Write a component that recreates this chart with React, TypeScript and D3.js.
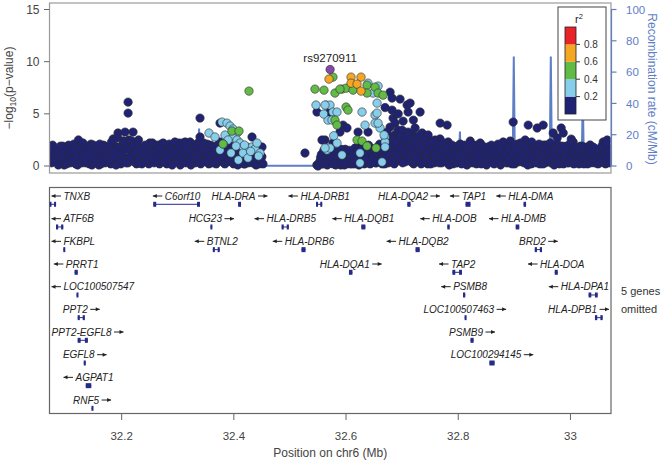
import React from "react";
import * as d3 from "d3";

// ---------------- DATA ----------------
const xTicks = [32.2, 32.4, 32.6, 32.8, 33];
const yTicks = [0, 5, 10, 15];
const recombTicks = [0, 20, 40, 60, 80, 100];
const legendBreaks = [0.2, 0.4, 0.6, 0.8];
const legendColors = ["#202373", "#87CEEB", "#62BB47", "#F5A623", "#E8242A"];

const leadSnpName = "rs9270911";
const leadSnp: [number, number][] = [[32.5716, 9.25]];

const snpsR2_08: [number, number][] = [];

const snpsR2_06: [number, number][] = [
  [32.5696, 8.33], [32.6089, 8.52], [32.6267, 8.52], [32.6089, 7.94], [32.6196, 7.85], [32.6267, 7.18],
];

const snpsR2_04: [number, number][] = [
  [32.427, 7.18], [32.3967, 3.35], [32.4092, 3.35], [32.3807, 2.11],
  [32.5767, 8.52], [32.5446, 7.37], [32.5607, 7.27], [32.5803, 6.99], [32.5928, 7.37], [32.6, 7.46],
  [32.6125, 7.27], [32.6374, 7.75], [32.6374, 6.99], [32.6517, 7.56], [32.6571, 6.99], [32.666, 6.79],
  [32.6, 5.65], [32.6035, 5.36], [32.5803, 4.4], [32.5839, 3.92], [32.6196, 2.49], [32.6285, 2.39],
  [32.6374, 1.91], [32.6535, 1.72], [32.5892, 7.37],
];

const snpsR2_02: [number, number][] = [
  [32.3557, 3.16], [32.3664, 2.78], [32.3789, 4.21], [32.3878, 4.11], [32.3932, 3.83], [32.3985, 3.54],
  [32.4056, 3.16], [32.3985, 2.68], [32.4056, 2.49], [32.411, 2.2], [32.4163, 1.82], [32.4235, 1.82],
  [32.4324, 1.82], [32.4377, 1.63], [32.4467, 1.24], [32.4413, 2.2], [32.4163, 1.24], [32.3843, 2.97],
  [32.3896, 2.49], [32.4038, 1.91], [32.4252, 0.77], [32.3753, 1.53], [32.395, 1.24], [32.419, 2.01],
  [32.43, 1.4], [32.444, 0.96], [32.408, 0.57], [32.381, 2.11],
  [32.5464, 5.84], [32.5643, 5.84], [32.5714, 5.84], [32.5767, 5.17], [32.5839, 5.17], [32.5678, 4.4],
  [32.575, 4.4], [32.6285, 5.17], [32.6392, 7.94], [32.6571, 7.66], [32.6481, 6.99], [32.6553, 6.03],
  [32.6517, 4.88], [32.6517, 4.11], [32.6606, 3.64], [32.6696, 2.78], [32.6696, 2.3], [32.6696, 1.82],
  [32.566, 1.53], [32.5714, 1.72], [32.5839, 2.2], [32.6249, 1.24], [32.6642, 0.38], [32.5625, 5.84],
  [32.5625, 1.72], [32.6339, 3.92], [32.6553, 5.07], [32.6571, 4.11], [32.6678, 2.97], [32.5928, 1.05],
  [32.6249, 0.29], [32.56, 4.98], [32.578, 2.9],
];

// r2 < 0.2: left part of the region
const snpsLowLeft: [number, number][] = [
  [32.2115, 6.12], [32.2115, 5.07], [32.3397, 4.59], [32.3753, 4.11], [32.4324, 2.78],
  [32.1935, 3.16], [32.2061, 3.25], [32.2203, 3.25], [32.185, 2.6], [32.23, 2.5],
  [32.3133, 2.3], [32.3361, 2.2], [32.3397, 2.78], [32.4502, 1.82],
  [32.073, 1.8], [32.075, 0.3], [32.078, 1.1], [32.081, 0.6], [32.084, 1.5], [32.087, 0.1], [32.089, 0.9], [32.091, 1.9],
  [32.094, 0.4], [32.096, 1.3], [32.099, 0.8], [32.102, 0.2], [32.104, 1.7], [32.107, 1.0], [32.11, 0.5],
  [32.113, 1.4], [32.115, 2.1], [32.118, 0.2], [32.12, 0.9], [32.123, 2.5], [32.125, 1.6], [32.128, 0.6], [32.131, 2.2],
  [32.133, 1.2], [32.136, 0.3], [32.138, 1.9], [32.141, 0.8], [32.144, 1.5], [32.147, 0.1], [32.15, 2.0],
  [32.153, 1.0], [32.155, 0.5], [32.158, 1.7], [32.161, 2.1], [32.163, 0.2], [32.166, 1.3], [32.169, 0.7], [32.171, 1.9],
  [32.174, 1.1], [32.176, 0.4], [32.179, 1.6], [32.182, 2.3], [32.185, 0.8], [32.187, 1.4], [32.19, 0.1],
  [32.193, 2.7], [32.195, 1.8], [32.197, 0.6], [32.2, 1.2], [32.203, 2.4], [32.205, 2.2], [32.208, 0.3], [32.21, 1.6],
  [32.213, 2.5], [32.215, 0.9], [32.218, 2.4], [32.22, 1.9], [32.223, 0.4], [32.225, 1.3], [32.228, 2.2], [32.231, 0.7],
  [32.234, 1.7], [32.236, 0.2], [32.239, 1.1], [32.242, 2.0], [32.245, 0.6], [32.247, 1.5], [32.25, 2.2],
  [32.253, 0.9], [32.255, 2.2], [32.258, 0.3], [32.261, 1.4], [32.263, 2.0], [32.266, 0.7], [32.269, 1.8], [32.271, 1.1],
  [32.274, 2.2], [32.276, 0.4], [32.279, 1.3], [32.282, 0.8], [32.285, 2.1], [32.287, 1.6], [32.29, 0.1],
  [32.293, 1.0], [32.295, 2.3], [32.298, 1.5], [32.301, 0.5], [32.303, 1.9], [32.306, 0.9], [32.309, 2.2], [32.311, 1.3],
  [32.314, 0.3], [32.316, 1.8], [32.319, 1.1], [32.322, 2.3], [32.325, 0.6], [32.327, 1.5], [32.33, 2.0],
  [32.333, 0.8], [32.335, 1.3], [32.338, 2.0], [32.341, 0.2], [32.343, 1.7], [32.346, 2.2], [32.349, 1.0], [32.351, 0.5],
  [32.354, 1.5], [32.356, 0.9], [32.359, 2.0], [32.362, 0.3], [32.364, 1.2], [32.367, 1.8], [32.37, 0.6],
  [32.373, 1.4], [32.375, 2.3], [32.378, 0.8], [32.381, 1.1], [32.384, 0.2], [32.387, 1.7], [32.39, 0.5],
  [32.393, 1.2], [32.396, 0.4], [32.398, 2.1], [32.401, 0.9], [32.404, 1.5], [32.407, 0.1], [32.41, 1.0],
  [32.413, 0.6], [32.415, 1.3], [32.418, 0.2], [32.421, 1.1], [32.424, 0.5], [32.427, 1.6], [32.43, 0.9],
  [32.433, 0.3], [32.435, 1.2], [32.438, 0.7], [32.441, 0.2], [32.444, 1.1], [32.447, 0.5], [32.45, 0.9], [32.452, 0.2],
];

// r2 < 0.2: more low-significance SNPs in the left part
const snpsLowLeft2: [number, number][] = [
  [32.0725, 0.9], [32.077, 2.0], [32.0795, 0.5], [32.0825, 1.2], [32.0855, 0.3], [32.088, 1.6], [32.0925, 0.7],
  [32.095, 1.9], [32.0975, 0.1], [32.1005, 1.3], [32.103, 0.6], [32.1055, 2.0], [32.1085, 0.3], [32.1115, 1.0],
  [32.1165, 0.5], [32.119, 1.8], [32.1215, 0.1], [32.1265, 1.1], [32.1295, 0.3], [32.1325, 1.7], [32.1345, 0.6],
  [32.1395, 1.4], [32.1425, 0.2], [32.1455, 2.1], [32.1485, 0.9], [32.1515, 0.3], [32.1565, 1.4], [32.1595, 0.1],
  [32.1645, 0.9], [32.1675, 2.0], [32.1705, 0.3], [32.1725, 1.5], [32.1775, 0.8], [32.1805, 0.2], [32.1835, 1.3],
  [32.1885, 1.9], [32.1915, 0.7], [32.1965, 1.3], [32.1985, 0.2], [32.2015, 2.0], [32.2065, 0.8], [32.2095, 1.9],
  [32.2115, 0.3], [32.2165, 1.6], [32.2215, 1.1], [32.2245, 2.0], [32.2265, 0.2], [32.2295, 1.5], [32.2325, 0.3],
  [32.2375, 1.3], [32.2405, 0.6], [32.2435, 1.6], [32.2485, 0.2], [32.2515, 1.2], [32.2565, 1.6], [32.2595, 0.6],
  [32.2645, 1.2], [32.2675, 0.2], [32.2705, 2.1], [32.2725, 0.5], [32.2775, 1.8], [32.2805, 0.2], [32.2835, 1.2],
  [32.2885, 0.6], [32.2915, 1.8], [32.2965, 0.4], [32.2995, 1.1], [32.3025, 2.2], [32.3045, 0.1], [32.3075, 1.5],
  [32.3125, 0.7], [32.3155, 2.0], [32.3175, 0.4], [32.3205, 1.5], [32.3235, 0.1], [32.3285, 1.0], [32.3315, 0.3],
  [32.3345, 1.8], [32.3395, 0.9], [32.3445, 0.4], [32.3475, 1.3], [32.3525, 2.1], [32.3555, 0.2], [32.3605, 1.5],
  [32.3635, 0.7], [32.3685, 0.2], [32.3715, 2.0], [32.3765, 0.5], [32.3795, 1.6], [32.3825, 0.3], [32.3855, 1.0],
  [32.3885, 0.4], [32.3915, 1.9], [32.3945, 0.8], [32.3995, 0.2], [32.4025, 1.3], [32.4055, 0.6], [32.4085, 1.5],
  [32.4115, 0.3], [32.4165, 0.8], [32.4195, 0.2], [32.4225, 1.2], [32.4255, 0.3], [32.4285, 1.0], [32.4315, 0.4],
  [32.4365, 0.7], [32.4395, 0.1], [32.4425, 0.6], [32.4455, 0.2], [32.4485, 0.7],
];

// r2 < 0.2: middle (peak) part
const snpsLowMid: [number, number][] = [
  [32.5268, 1.24], [32.548, 0.1], [32.55, 0.0],
  [32.6785, 7.08], [32.682, 6.51], [32.6963, 6.41], [32.7088, 5.84], [32.7142, 6.03], [32.732, 5.17],
  [32.7106, 5.17], [32.682, 5.36], [32.6838, 4.59], [32.6785, 3.73], [32.6731, 3.25], [32.682, 2.78],
  [32.6874, 4.11], [32.6927, 3.44], [32.6999, 3.44], [32.7106, 3.25], [32.7231, 3.64], [32.7356, 3.16],
  [32.6874, 2.49], [32.7142, 2.01], [32.7052, 2.68], [32.7285, 2.49], [32.7463, 2.97], [32.7588, 2.49],
  [32.7677, 4.11], [32.7802, 3.92], [32.782, 2.3], [32.5714, 5.17], [32.5946, 3.92], [32.6017, 3.64],
  [32.6214, 3.25], [32.6392, 3.25], [32.616, 1.72], [32.6035, 1.05], [32.5625, 2.49], [32.5767, 2.2],
  [32.5482, 5.17], [32.5571, 2.49], [32.5607, 1.34], [32.5892, 3.25], [32.6696, 5.6], [32.7017, 4.3],
  [32.72, 4.4], [32.693, 5.0],
];

// r2 < 0.2: right part
const snpsLowRight: [number, number][] = [
  [32.8979, 4.21], [32.9247, 3.92], [32.9407, 3.64], [32.9514, 3.92], [32.9692, 3.16], [32.9835, 3.64],
  [32.9871, 3.16], [33.0049, 2.3], [33.0014, 2.58], [33.0584, 2.3], [32.9764, 2.68], [32.9193, 2.49],
  [32.8801, 2.3], [32.8694, 1.91], [32.8533, 1.82], [32.8034, 2.11], [32.8214, 2.39], [32.8392, 2.2],
  [32.8926, 2.39], [32.9104, 2.11], [32.9549, 2.01], [33.0351, 2.01], [33.0655, 2.49],
  [32.553, 0.4], [32.556, 1.1], [32.559, 0.2], [32.562, 0.8], [32.565, 0.3], [32.568, 1.3], [32.571, 0.6],
  [32.574, 0.9], [32.577, 0.2], [32.58, 1.4], [32.583, 0.5], [32.586, 1.0], [32.589, 0.3], [32.591, 1.6],
  [32.594, 0.7], [32.597, 0.1], [32.6, 1.2], [32.603, 0.4], [32.606, 1.5], [32.609, 0.8], [32.611, 0.2],
  [32.614, 1.0], [32.617, 0.5], [32.62, 1.4], [32.623, 0.1], [32.626, 0.9], [32.629, 1.7], [32.631, 0.4],
  [32.634, 1.1], [32.637, 0.6], [32.64, 2.0], [32.643, 0.2], [32.646, 1.3], [32.649, 0.8], [32.651, 1.6],
  [32.654, 0.3], [32.657, 1.2], [32.66, 2.1], [32.663, 0.7], [32.666, 1.5], [32.669, 0.2], [32.671, 2.4],
  [32.674, 1.0], [32.676, 1.9], [32.679, 0.5], [32.681, 2.6], [32.684, 1.4], [32.686, 0.2], [32.689, 2.2], [32.691, 1.1],
  [32.694, 0.6], [32.696, 2.9], [32.699, 1.7], [32.701, 0.3], [32.704, 2.4], [32.706, 1.2], [32.709, 2.8], [32.711, 0.8],
  [32.714, 1.9], [32.716, 0.4], [32.719, 2.6], [32.721, 1.3], [32.724, 2.2], [32.726, 0.7], [32.729, 1.6], [32.731, 2.9],
  [32.734, 0.2], [32.736, 1.8], [32.739, 2.5], [32.741, 1.0], [32.744, 0.5], [32.746, 2.1], [32.749, 1.4], [32.751, 0.2],
  [32.754, 1.7], [32.756, 2.4], [32.759, 0.8], [32.761, 1.3], [32.764, 2.0], [32.766, 0.3], [32.769, 1.5], [32.771, 0.9],
  [32.774, 2.2], [32.776, 0.5], [32.779, 1.2], [32.781, 1.8], [32.784, 0.1], [32.786, 1.0], [32.789, 2.0], [32.791, 0.6],
  [32.794, 1.4], [32.796, 0.3], [32.799, 1.9], [32.801, 0.9], [32.804, 1.5], [32.806, 0.2], [32.809, 1.1], [32.811, 2.0],
  [32.814, 0.7], [32.816, 1.6], [32.819, 0.3], [32.821, 2.2], [32.824, 1.0], [32.826, 1.7], [32.829, 0.5], [32.831, 1.3],
  [32.834, 2.0], [32.836, 0.8], [32.839, 1.5], [32.841, 0.2], [32.844, 1.9], [32.846, 1.1], [32.849, 0.6], [32.851, 1.7],
  [32.854, 0.4], [32.856, 1.3], [32.859, 2.0], [32.861, 0.9], [32.864, 0.2], [32.866, 1.6], [32.869, 1.0], [32.871, 2.1],
  [32.874, 0.5], [32.876, 1.4], [32.879, 0.8], [32.881, 2.2], [32.884, 1.1], [32.886, 0.3], [32.889, 1.8], [32.891, 0.7],
  [32.894, 1.5], [32.896, 0.2], [32.899, 1.2], [32.901, 2.0], [32.904, 0.6], [32.906, 1.6], [32.909, 0.9], [32.911, 2.2],
  [32.914, 0.4], [32.916, 1.3], [32.919, 1.9], [32.921, 0.8], [32.924, 0.1], [32.926, 1.5], [32.929, 1.0], [32.931, 2.3],
  [32.934, 0.6], [32.936, 1.7], [32.939, 0.3], [32.941, 1.2], [32.944, 2.1], [32.946, 0.9], [32.949, 1.5], [32.951, 0.2],
  [32.954, 1.1], [32.956, 1.8], [32.959, 0.5], [32.961, 1.4], [32.964, 2.2], [32.966, 0.7], [32.969, 1.2], [32.971, 0.1],
  [32.974, 1.6], [32.976, 0.9], [32.979, 2.0], [32.981, 0.4], [32.984, 1.3], [32.986, 1.9], [32.989, 0.6], [32.991, 1.0],
  [32.994, 0.3], [32.996, 1.5], [32.999, 2.1], [33.001, 0.8], [33.004, 1.2], [33.006, 0.2], [33.009, 1.7], [33.011, 0.9],
  [33.014, 0.5], [33.016, 1.4], [33.019, 0.9], [33.021, 1.9], [33.024, 0.2], [33.026, 1.1], [33.029, 0.6], [33.031, 1.6],
  [33.034, 0.8], [33.036, 0.3], [33.039, 1.3], [33.041, 1.8], [33.044, 0.6], [33.046, 1.0], [33.049, 0.2], [33.051, 1.5],
  [33.054, 0.9], [33.056, 1.9], [33.059, 0.4], [33.061, 1.2], [33.064, 2.1], [33.066, 0.7], [33.069, 1.4], [33.07, 0.3],
];

// r2 < 0.2: more low-significance SNPs in the right part
const snpsLowRight2: [number, number][] = [
  [32.5545, 0.8], [32.5575, 0.2], [32.5605, 1.5], [32.5635, 0.5], [32.5665, 0.1], [32.5695, 1.0], [32.5725, 0.3],
  [32.5755, 1.3], [32.5785, 0.6], [32.5815, 0.1], [32.5845, 1.1], [32.5875, 0.6], [32.5905, 0.1], [32.5925, 1.1],
  [32.5955, 0.4], [32.5985, 1.6], [32.6015, 0.2], [32.6045, 0.9], [32.6075, 0.2], [32.6105, 1.3], [32.6125, 0.6],
  [32.6155, 0.2], [32.6185, 1.0], [32.6215, 0.4], [32.6245, 1.8], [32.6275, 0.4], [32.6305, 1.1], [32.6325, 0.2],
  [32.6355, 1.6], [32.6385, 0.3], [32.6415, 1.0], [32.6445, 1.7], [32.6475, 0.4], [32.6505, 1.1], [32.6525, 0.3],
  [32.6555, 1.8], [32.6585, 0.6], [32.6615, 1.4], [32.6645, 0.2], [32.6675, 1.0], [32.6705, 0.6], [32.6725, 1.7],
  [32.6755, 0.3], [32.6775, 2.4], [32.6805, 1.1], [32.6825, 0.4], [32.6855, 1.8], [32.6875, 3.0], [32.6905, 0.5],
  [32.6925, 1.5], [32.6955, 2.2], [32.6975, 0.9], [32.7005, 1.4], [32.7025, 3.2], [32.7055, 0.4], [32.7075, 2.0],
  [32.7105, 1.2], [32.7125, 2.4], [32.7155, 0.9], [32.7175, 3.0], [32.7205, 0.2], [32.7225, 1.8], [32.7255, 2.8],
  [32.7275, 1.0], [32.7305, 0.4], [32.7325, 2.2], [32.7355, 1.2], [32.7375, 0.6], [32.7405, 2.8], [32.7425, 1.6],
  [32.7455, 0.2], [32.7475, 1.2], [32.7505, 2.4], [32.7525, 0.8], [32.7555, 1.1], [32.7575, 0.3], [32.7605, 2.1],
  [32.7625, 0.6], [32.7655, 1.6], [32.7675, 2.6], [32.7705, 0.3], [32.7725, 1.4], [32.7755, 1.9], [32.7775, 0.8],
  [32.7805, 0.3], [32.7825, 1.5], [32.7855, 0.6], [32.7875, 1.3], [32.7905, 0.2], [32.7925, 1.8], [32.7955, 0.9],
  [32.7975, 0.3], [32.8005, 1.4], [32.8025, 0.5], [32.8055, 2.0], [32.8075, 0.7], [32.8105, 0.4], [32.8125, 1.2],
  [32.8155, 0.1], [32.8175, 1.1], [32.8205, 0.6], [32.8225, 1.5], [32.8255, 0.3], [32.8275, 2.0], [32.8305, 0.9],
  [32.8325, 0.2], [32.8355, 1.2], [32.8375, 0.5], [32.8405, 1.9], [32.8425, 1.0], [32.8455, 0.4], [32.8475, 1.4],
  [32.8505, 0.1], [32.8525, 1.0], [32.8555, 1.8], [32.8575, 0.6], [32.8605, 1.5], [32.8625, 0.3], [32.8655, 0.9],
  [32.8675, 1.9], [32.8705, 0.4], [32.8725, 1.3], [32.8755, 0.1], [32.8775, 1.8], [32.8805, 0.4], [32.8825, 1.4],
  [32.8855, 0.7], [32.8875, 2.0], [32.8905, 0.3], [32.8925, 1.1], [32.8955, 1.9], [32.8975, 0.6], [32.9005, 0.2],
  [32.9025, 1.3], [32.9055, 2.1], [32.9075, 0.4], [32.9105, 1.1], [32.9125, 0.5], [32.9155, 1.8], [32.9175, 0.3],
  [32.9205, 1.2], [32.9225, 2.0], [32.9255, 0.6], [32.9275, 1.4], [32.9305, 0.2], [32.9325, 1.0], [32.9355, 1.9],
  [32.9375, 0.4], [32.9405, 1.6], [32.9425, 0.8], [32.9455, 0.2], [32.9475, 1.2], [32.9505, 2.0], [32.9525, 0.6],
  [32.9555, 0.3], [32.9575, 1.4], [32.9605, 0.9], [32.9625, 1.9], [32.9655, 0.3], [32.9675, 1.6], [32.9705, 0.7],
  [32.9725, 2.0], [32.9755, 0.4], [32.9775, 1.2], [32.9805, 0.2], [32.9825, 1.7], [32.9855, 0.8], [32.9875, 0.2],
  [32.9905, 1.5], [32.9925, 1.9], [32.9955, 0.8], [32.9975, 0.3], [33.0005, 1.5], [33.0025, 0.5], [33.0055, 1.9],
  [33.0075, 0.9], [33.0105, 0.3], [33.0125, 1.3], [33.0155, 0.2], [33.0175, 1.9], [33.0205, 0.5], [33.0225, 1.3],
  [33.0255, 0.7], [33.0275, 1.8], [33.0305, 0.2], [33.0325, 1.1], [33.0355, 1.7], [33.0375, 0.5], [33.0405, 0.9],
  [33.0425, 0.3], [33.0455, 1.6], [33.0475, 0.7], [33.0505, 1.1], [33.0525, 0.3], [33.0555, 1.4], [33.0575, 0.6],
  [33.0605, 1.8], [33.0625, 0.2], [33.0655, 1.0], [33.0675, 1.7], [33.0705, 0.6],
];

const recombPos = [
  32.072, 32.1, 32.15, 32.2, 32.25, 32.3, 32.336, 32.338, 32.34, 32.38, 32.42, 32.45, 32.5, 32.55, 32.56,
  32.6, 32.65, 32.7, 32.739, 32.741, 32.743, 32.78, 32.801, 32.803, 32.805, 32.85, 32.897, 32.899, 32.901,
  32.93, 32.963, 32.965, 32.967, 33.0, 33.02, 33.022, 33.024, 33.05, 33.072,
];
const recombRate = [
  0.5, 1.2, 0.8, 1.5, 0.6, 1.0, 0.5, 24, 0.5, 1.0, 0.4, 0.1, 0.1, 0.1, 0.8,
  0.5, 1.0, 1.5, 0.8, 18, 0.8, 2.0, 1.0, 22, 1.0, 1.5, 1.0, 70, 1.0,
  2.0, 1.0, 70, 1.0, 2.0, 1.0, 45, 1.0, 1.5, 1.0,
];

// genes: name, start (Mb), end (Mb), strand, row
const geneNames = [
  "TNXB", "C6orf10", "HLA-DRA", "HLA-DRB1", "HLA-DQA2", "TAP1", "HLA-DMA",
  "ATF6B", "HCG23", "HLA-DRB5", "HLA-DQB1", "HLA-DOB", "HLA-DMB",
  "FKBPL", "BTNL2", "HLA-DRB6", "HLA-DQB2", "BRD2",
  "PRRT1", "HLA-DQA1", "TAP2", "HLA-DOA",
  "LOC100507547", "PSMB8", "HLA-DPA1",
  "PPT2", "LOC100507463", "HLA-DPB1",
  "PPT2-EGFL8", "PSMB9",
  "EGFL8", "LOC100294145",
  "AGPAT1",
  "RNF5",
];
const geneStart = [
  32.0089, 32.2563, 32.4076, 32.5465, 32.7092, 32.813, 32.9164,
  32.083, 32.3582, 32.4851, 32.6272, 32.7805, 32.9024,
  32.096, 32.3625, 32.5205, 32.7239, 32.9364,
  32.1161, 32.6052, 32.7896, 32.972,
  32.1195, 32.8085, 33.0323,
  32.1216, 32.8113, 33.0437,
  32.1216, 32.8218,
  32.1324, 32.8555,
  32.136,
  32.1462,
];
const geneEnd = [
  32.0831, 32.3397, 32.4128, 32.5576, 32.715, 32.8218, 32.9209,
  32.096, 32.3615, 32.4981, 32.6345, 32.7848, 32.9088,
  32.0975, 32.3749, 32.5278, 32.7313, 32.9493,
  32.1218, 32.6114, 32.8066, 32.9774,
  32.1212, 32.8125, 33.0486,
  32.1344, 32.8122, 33.0575,
  32.1398, 32.8274,
  32.1361, 32.8648,
  32.1459,
  32.1483,
];
const geneStrand = [
  -1, -1, 1, -1, 1, -1, -1,
  -1, 1, -1, -1, -1, -1,
  -1, -1, -1, -1, 1,
  -1, 1, -1, -1,
  -1, -1, -1,
  1, 1, 1,
  1, 1,
  1, 1,
  -1,
  1,
];
const geneRow = [
  0, 0, 0, 0, 0, 0, 0,
  1, 1, 1, 1, 1, 1,
  2, 2, 2, 2, 2,
  3, 3, 3, 3,
  4, 4, 4,
  5, 5, 5,
  6, 6,
  7, 7,
  8,
  9,
];
const omittedNote = ["5 genes", "omitted"];

// ---------------- LAYOUT ----------------
const W = 668, H = 460;
const PL = 49.5, PR = 611;
const TOP_Y0 = 3, TOP_Y1 = 173;
const BOT_Y0 = 187.5, BOT_Y1 = 413.5;
const FONT = "'Liberation Sans', Arial, Helvetica, sans-serif";
const RECOMB_COLOR = "#5E7EC6";
const GENE_COLOR = "#262B86";

let _ctx: CanvasRenderingContext2D | null = null;
function textWidth(t: string, font: string) {
  if (!_ctx) _ctx = document.createElement("canvas").getContext("2d");
  if (!_ctx) return t.length * 6;
  _ctx.font = font;
  return _ctx.measureText(t).width;
}

function Arrow({ x0, y, dir }: { x0: number; y: number; dir: number }) {
  const L = 9.5;
  const head = dir < 0 ? x0 : x0 + L;
  const back = dir < 0 ? head + 4 : head - 4;
  return (
    <g>
      <line x1={x0} x2={x0 + L} y1={y} y2={y} stroke="#222" strokeWidth={1} />
      <path d={`M${head},${y}L${back},${y - 2}L${back},${y + 2}Z`} fill="#222" />
    </g>
  );
}

export default function App() {
  const x = d3.scaleLinear().domain([32.0714, 33.0723]).range([PL, PR]);
  const y = d3.scaleLinear().domain([0, 15]).range([166, 9.5]);
  const yr = d3.scaleLinear().domain([0, 100]).range([166, 9.5]);

  const recombLine = d3
    .line<number>()
    .x((_, i) => x(recombPos[i]))
    .y((d) => yr(d))(recombRate) as string;

  const pointSets: [string, [number, number][]][] = [
    [legendColors[0], snpsLowLeft2],
    [legendColors[0], snpsLowRight2],
    [legendColors[0], snpsLowLeft],
    [legendColors[0], snpsLowMid],
    [legendColors[0], snpsLowRight],
    [legendColors[1], snpsR2_02],
    [legendColors[2], snpsR2_04],
    [legendColors[3], snpsR2_06],
    [legendColors[4], snpsR2_08],
    ["#8448A8", leadSnp],
  ];

  const geneFont = `italic 10px ${FONT}`;
  const rowY = (r: number) => 196 + r * 22.67;

  // legend geometry
  const lgX = 558, lgY = 7, lgW = 48, lgH = 113;
  const barX = 565, barW = 11, barY0 = 27, barY1 = 114;
  const lgScale = d3.scaleLinear().domain([0, 1]).range([barY1, barY0]);

  return (
    <div style={{ position: "absolute", left: 0, top: 0 }}>
      <svg width={W} height={H} style={{ display: "block", background: "#fff" }} fontFamily={FONT}>
        <defs>
          <clipPath id="topClip">
            <rect x={PL} y={TOP_Y0} width={PR - PL} height={TOP_Y1 - TOP_Y0} />
          </clipPath>
          <clipPath id="botClip">
            <rect x={PL} y={BOT_Y0} width={PR - PL} height={BOT_Y1 - BOT_Y0} />
          </clipPath>
        </defs>

        {/* ---------- top panel ---------- */}
        <g clipPath="url(#topClip)">
          <path d={recombLine} fill="none" stroke={RECOMB_COLOR} strokeWidth={2} />
          {pointSets.map(([col, pts], k) =>
            pts.map((p, i) => (
              <circle key={`${k}-${i}`} cx={x(p[0])} cy={y(p[1])} r={4.2} fill={col} stroke="#2b2b2b" strokeWidth={0.6} />
            ))
          )}
        </g>
        <rect x={PL} y={TOP_Y0} width={PR - PL} height={TOP_Y1 - TOP_Y0} fill="none" stroke="#9a9a9a" strokeWidth={1.2} />
        <text x={x(leadSnp[0][0])} y={62} textAnchor="middle" fontSize={11.5} fill="#222">{leadSnpName}</text>

        {/* left axis */}
        {yTicks.map((t) => (
          <g key={t}>
            <line x1={PL - 5.5} x2={PL} y1={y(t)} y2={y(t)} stroke="#666" />
            <text x={39.5} y={y(t) + 4.2} textAnchor="end" fontSize={12} fill="#444">{t}</text>
          </g>
        ))}
        <text transform={`translate(13,88) rotate(-90)`} textAnchor="middle" fontSize={12} fill="#444">
          −log<tspan fontSize={8.5} dy={2.5}>10</tspan><tspan dy={-2.5}>(p−value)</tspan>
        </text>

        {/* right axis */}
        <line x1={PR + 0.5} x2={PR + 0.5} y1={yr(0)} y2={yr(100)} stroke={RECOMB_COLOR} strokeWidth={1.2} />
        {recombTicks.map((t) => (
          <g key={t}>
            <line x1={PR} x2={PR + 5.5} y1={yr(t)} y2={yr(t)} stroke={RECOMB_COLOR} strokeWidth={1.2} />
            <text x={626} y={yr(t) + 4.2} fontSize={11.5} fill={RECOMB_COLOR}>{t}</text>
          </g>
        ))}
        <text transform={`translate(648,89) rotate(90)`} textAnchor="middle" fontSize={12} fill={RECOMB_COLOR}>
          Recombination rate (cM/Mb)
        </text>

        {/* legend */}
        <rect x={lgX} y={lgY} width={lgW} height={lgH} fill="#fff" stroke="#444" strokeWidth={1} />
        <text x={579} y={23} textAnchor="middle" fontSize={11} fill="#222">
          r<tspan fontSize={7.5} dy={-4.5}>2</tspan>
        </text>
        {legendColors.map((c, i) => (
          <rect key={c} x={barX} y={lgScale((i + 1) / 5)} width={barW} height={lgScale(i / 5) - lgScale((i + 1) / 5)} fill={c} />
        ))}
        <rect x={barX} y={barY0} width={barW} height={barY1 - barY0} fill="none" stroke="#222" strokeWidth={0.8} />
        {legendBreaks.map((b) => (
          <g key={b}>
            <line x1={barX + barW} x2={barX + barW + 4} y1={lgScale(b)} y2={lgScale(b)} stroke="#333" />
            <text x={584} y={lgScale(b) + 3.5} fontSize={10} fill="#333">{b.toFixed(1)}</text>
          </g>
        ))}

        {/* ---------- gene panel ---------- */}
        <rect x={PL} y={BOT_Y0} width={PR - PL} height={BOT_Y1 - BOT_Y0} fill="none" stroke="#666" strokeWidth={1.2} />
        <g clipPath="url(#botClip)">
          {geneNames.map((name, i) => {
            const ry = rowY(geneRow[i]);
            const gx0 = Math.max(x(geneStart[i]), PL);
            const gx1 = Math.min(x(geneEnd[i]), PR);
            const gw = Math.max(gx1 - gx0, 1.5);
            const by = ry + 8.3;
            const tw = textWidth(name, geneFont);
            const total = tw + 2.5 + 9.5;
            const cx = (gx0 + gx1) / 2;
            let left = cx - total / 2;
            if (left < PL + 2) left = PL + 2;
            if (left + total > PR - 2) left = PR - 2 - total;
            const dir = geneStrand[i];
            const textX = dir < 0 ? left + 12 : left;
            const arrowX = dir < 0 ? left : left + tw + 2.5;
            const exonW = Math.max(2, Math.min(gw * 0.3, 3));
            return (
              <g key={name}>
                <text x={textX} y={ry + 3.5} fontSize={10} fontStyle="italic" fill="#222">{name}</text>
                <Arrow x0={arrowX} y={ry} dir={dir} />
                <line x1={gx0} x2={gx0 + gw} y1={by} y2={by} stroke={GENE_COLOR} strokeWidth={1} />
                {gw < 6 ? (
                  <rect x={gx0} y={by - 2.5} width={Math.max(gw, 2)} height={5} fill={GENE_COLOR} />
                ) : (
                  <>
                    <rect x={gx0} y={by - 2.5} width={exonW} height={5} fill={GENE_COLOR} />
                    <rect x={gx0 + gw - exonW} y={by - 2.5} width={exonW} height={5} fill={GENE_COLOR} />
                  </>
                )}
              </g>
            );
          })}
        </g>
        <text x={621} y={295} fontSize={11} fill="#333">{omittedNote[0]}</text>
        <text x={621} y={313} fontSize={11} fill="#333">{omittedNote[1]}</text>

        {/* bottom axis */}
        {xTicks.map((t) => (
          <g key={t}>
            <line x1={x(t)} x2={x(t)} y1={BOT_Y1} y2={BOT_Y1 + 6.5} stroke="#666" />
            <text x={x(t)} y={440} textAnchor="middle" fontSize={11.5} fill="#444">{t}</text>
          </g>
        ))}
        <text x={(PL + PR) / 2} y={456.5} textAnchor="middle" fontSize={12} fill="#444">Position on chr6 (Mb)</text>
      </svg>
    </div>
  );
}
